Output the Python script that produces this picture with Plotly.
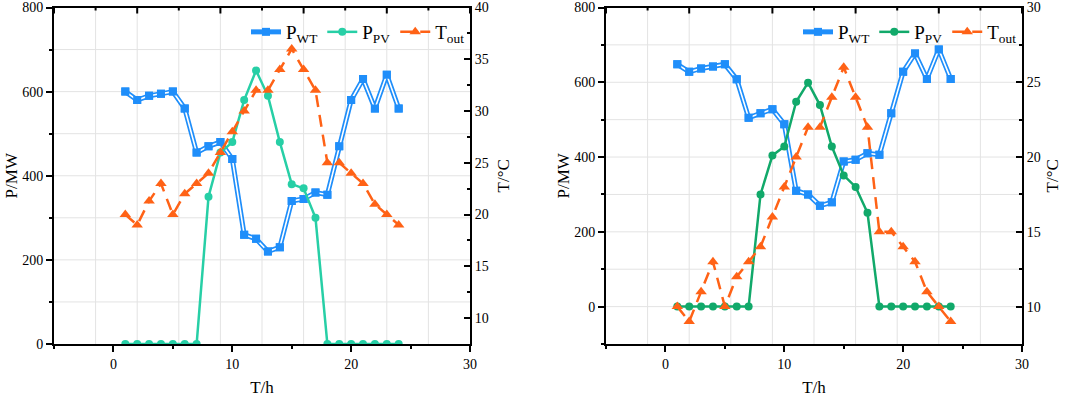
import plotly.graph_objects as go

hours = list(range(1, 25))

# Left chart
wt_a = [600, 580, 590, 595, 600, 560, 455, 470, 480, 440, 260, 250,
        220, 230, 340, 345, 360, 355, 470, 580, 630, 560, 640, 560]
pv_a = [0, 0, 0, 0, 0, 0, 0, 350, 455, 480, 580, 650,
        590, 480, 380, 370, 300, 0, 0, 0, 0, 0, 0, 0]
t_a = [20, 19, 21.3, 23, 20, 22, 23, 24, 26, 28, 30, 32,
       32, 34, 36, 34, 32, 25, 25, 24, 23, 21, 20, 19]

# Right chart
wt_b = [648, 628, 637, 642, 648, 608, 505, 517, 528, 488, 310, 300,
        270, 279, 388, 393, 410, 406, 517, 628, 677, 609, 688, 609]
pv_b = [0, 0, 0, 0, 0, 0, 0, 300, 404, 428, 548, 599,
        539, 428, 351, 320, 251, 0, 0, 0, 0, 0, 0, 0]
t_b = [10, 9, 11, 13, 10, 12, 13, 14, 16, 18, 20, 22,
       22, 24, 26, 24, 22, 15, 15, 14, 13, 11, 10, 9]

BLUE = "#1F8EFA"
TEAL = "#27CFA6"
GREEN = "#11A96A"
ORANGE = "#FF6216"
FONT = "Liberation Serif"
GRID = "#E3E3E3"

fig = go.Figure()


def add_panel(xa, ya, ya2, wt, pv, t, pvcolor, legend):
    fig.add_trace(go.Scatter(x=hours, y=wt, mode="lines+markers", name="P<sub>WT</sub>",
                             line=dict(color=BLUE, width=5),
                             marker=dict(symbol="square", size=8, color=BLUE),
                             xaxis=xa, yaxis=ya, legend=legend))
    fig.add_trace(go.Scatter(x=hours, y=wt, mode="lines", showlegend=False,
                             line=dict(color="white", width=1.6),
                             xaxis=xa, yaxis=ya, hoverinfo="skip"))
    fig.add_trace(go.Scatter(x=hours, y=wt, mode="markers", showlegend=False,
                             marker=dict(symbol="square", size=8, color=BLUE),
                             xaxis=xa, yaxis=ya, hoverinfo="skip"))
    fig.add_trace(go.Scatter(x=hours, y=pv, mode="lines+markers", name="P<sub>PV</sub>",
                             line=dict(color=pvcolor, width=2.5),
                             marker=dict(symbol="circle", size=8, color=pvcolor),
                             xaxis=xa, yaxis=ya, legend=legend))
    fig.add_trace(go.Scatter(x=hours, y=t, mode="lines+markers", name="T<sub>out</sub>",
                             line=dict(color=ORANGE, width=2.5, dash="12px,8px"),
                             marker=dict(symbol="triangle-up", size=10, color=ORANGE),
                             xaxis=xa, yaxis=ya2, legend=legend))


add_panel("x", "y", "y2", wt_a, pv_a, t_a, TEAL, "legend")
add_panel("x2", "y3", "y4", wt_b, pv_b, t_b, GREEN, "legend2")

H = 397.0
W = 1065.0
domA = [54 / W, 470 / W]
domB = [606 / W, 1022 / W]
domY = [1 - 344 / H, 1 - 7.5 / H]
PLOT_H = 336.5

tickfont = dict(family=FONT, size=14, color="black")
titlefont = dict(family=FONT, size=17, color="black")


def xbottom(dom, anchor):
    return dict(domain=dom, anchor=anchor, range=[-5, 30], tick0=0, dtick=10, ticks="outside", ticklen=6,
                tickwidth=2, tickcolor="black", showline=True, mirror=True, linewidth=2,
                linecolor="black", showgrid=False, zeroline=False, tickfont=tickfont,
                automargin=False,
                minor=dict(dtick=5, ticks="outside", ticklen=3, tickwidth=2, tickcolor="black", showgrid=False),
                title=dict(text="T/h", font=titlefont, standoff=10))


def yleft(rng, anchor):
    return dict(domain=domY, anchor=anchor, range=rng, tick0=0, dtick=200, ticks="outside", ticklen=6,
                tickwidth=2, tickcolor="black", showline=True, linewidth=2, linecolor="black",
                showgrid=False, zeroline=False, tickfont=tickfont, automargin=False,
                minor=dict(dtick=100, tick0=0, ticks="outside", ticklen=3, tickwidth=2, tickcolor="black",
                           showgrid=False),
                title=dict(text="P/MW", font=titlefont, standoff=0))


def yright(rng, over, anchor, standoff):
    return dict(overlaying=over, anchor=anchor, side="right", range=rng, tick0=10, dtick=5,
                ticks="inside", ticklen=6, tickwidth=2, tickcolor="black", showline=True,
                linewidth=2, linecolor="black", showgrid=False, zeroline=False, tickfont=tickfont,
                automargin=False,
                minor=dict(dtick=2.5, tick0=10, ticks="inside", ticklen=3, tickwidth=2, tickcolor="black",
                           showgrid=False),
                title=dict(text="T/°C", font=titlefont, standoff=standoff))


# grid lines and top-axis ticks (decoration)
shapes = []
for xr, yr, ymin, ymax in [("x", "y", 0, 800), ("x2", "y3", -100, 800)]:
    xd = xr + " domain"
    yd = yr + " domain"
    for k in range(1, 10):
        gx = -5 + 3.5 * k
        shapes.append(dict(type="line", xref=xr, yref=yd, x0=gx, x1=gx, y0=0, y1=1,
                           line=dict(color=GRID, width=1), layer="below"))
    gy = ymin + 100
    while gy < ymax:
        shapes.append(dict(type="line", xref=xd, yref=yr, x0=0, x1=1, y0=gy, y1=gy,
                           line=dict(color=GRID, width=1), layer="below"))
        gy += 100
    for k in range(0, 11):
        gx = -5 + 3.5 * k
        ln = 6 if k % 2 == 0 else 3
        shapes.append(dict(type="line", xref=xr, yref=yd, x0=gx, x1=gx, y0=1, y1=1 - ln / PLOT_H,
                           line=dict(color="black", width=2), layer="above"))

legstyle = dict(orientation="h", font=dict(family=FONT, size=19, color="black"),
                bgcolor="rgba(0,0,0,0)", xanchor="right", yanchor="middle",
                itemwidth=30, tracegroupgap=0)

fig.update_layout(
    width=1065, height=397,
    margin=dict(l=0, r=0, t=0, b=0, autoexpand=False),
    paper_bgcolor="white", plot_bgcolor="white",
    font=dict(family=FONT, color="black"),
    xaxis=xbottom(domA, "y"), xaxis2=xbottom(domB, "y3"),
    yaxis=yleft([0, 800], "x"), yaxis3=yleft([-100, 800], "x2"),
    yaxis2=yright([7.5, 40], "y", "x", 9), yaxis4=yright([7.5, 30], "y3", "x2", 6),
    legend=dict(x=470 / W, y=1 - 32 / H, **legstyle),
    legend2=dict(x=1022 / W, y=1 - 32 / H, **legstyle),
    showlegend=True,
    shapes=shapes,
)

fig.write_html("out.html", config={"displayModeBar": False},
               post_script="document.body.style.margin='0';document.body.style.overflow='hidden';")
